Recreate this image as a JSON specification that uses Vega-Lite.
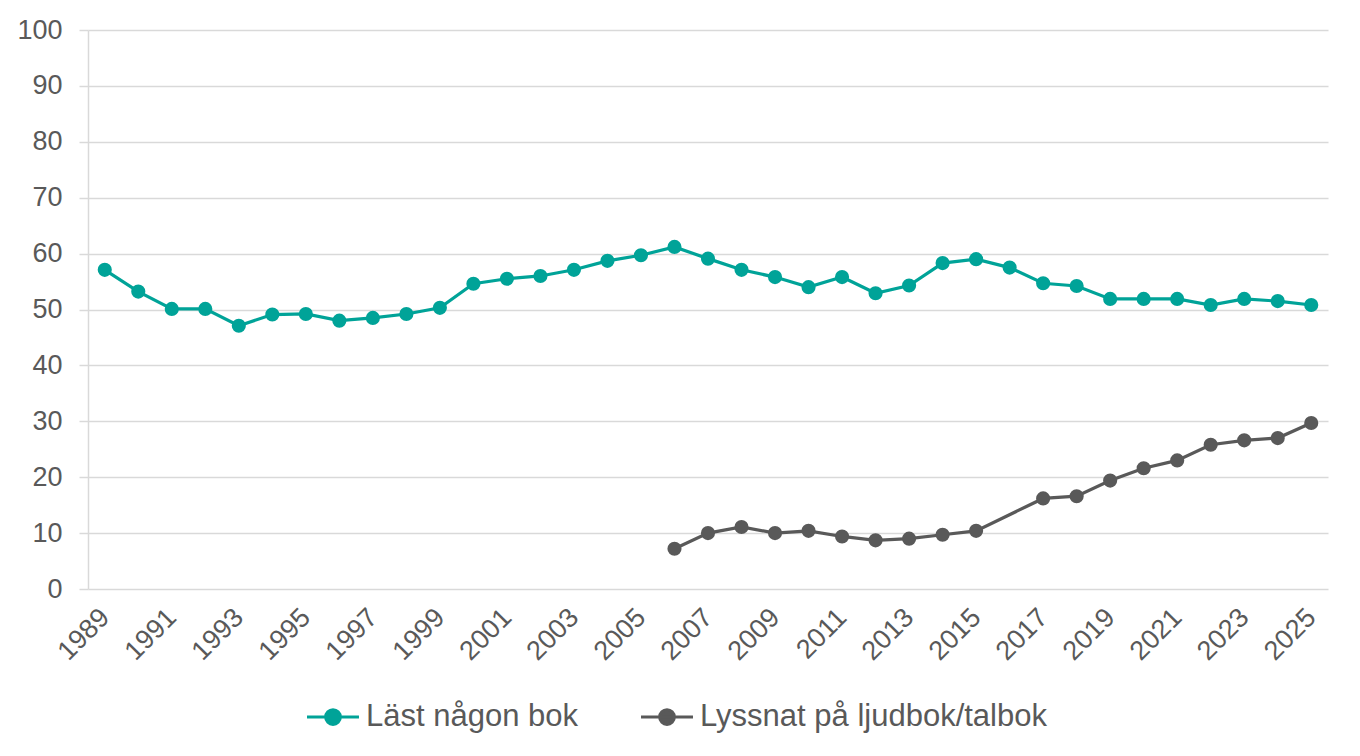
{
  "$schema": "https://vega.github.io/schema/vega-lite/v6.json",
  "autosize": "none",
  "width": 1240,
  "height": 559,
  "padding": {"left": 88, "top": 30, "right": 32, "bottom": 167},
  "background": "white",
  "config": {
    "view": {"stroke": null},
    "font": "Liberation Sans",
    "axis": {"labelFont": "Liberation Sans", "labelColor": "#595959", "labelFontSize": 27}
  },
  "data": {"values": [
    {"year": 1989, "series": "Läst någon bok", "value": 57.1},
    {"year": 1990, "series": "Läst någon bok", "value": 53.2},
    {"year": 1991, "series": "Läst någon bok", "value": 50.1},
    {"year": 1992, "series": "Läst någon bok", "value": 50.1},
    {"year": 1993, "series": "Läst någon bok", "value": 47.1},
    {"year": 1994, "series": "Läst någon bok", "value": 49.1},
    {"year": 1995, "series": "Läst någon bok", "value": 49.2},
    {"year": 1996, "series": "Läst någon bok", "value": 48.0},
    {"year": 1997, "series": "Läst någon bok", "value": 48.5},
    {"year": 1998, "series": "Läst någon bok", "value": 49.2},
    {"year": 1999, "series": "Läst någon bok", "value": 50.3},
    {"year": 2000, "series": "Läst någon bok", "value": 54.6},
    {"year": 2001, "series": "Läst någon bok", "value": 55.5},
    {"year": 2002, "series": "Läst någon bok", "value": 56.0},
    {"year": 2003, "series": "Läst någon bok", "value": 57.1},
    {"year": 2004, "series": "Läst någon bok", "value": 58.7},
    {"year": 2005, "series": "Läst någon bok", "value": 59.7},
    {"year": 2006, "series": "Läst någon bok", "value": 61.2},
    {"year": 2007, "series": "Läst någon bok", "value": 59.1},
    {"year": 2008, "series": "Läst någon bok", "value": 57.1},
    {"year": 2009, "series": "Läst någon bok", "value": 55.8},
    {"year": 2010, "series": "Läst någon bok", "value": 54.0},
    {"year": 2011, "series": "Läst någon bok", "value": 55.8},
    {"year": 2012, "series": "Läst någon bok", "value": 52.9},
    {"year": 2013, "series": "Läst någon bok", "value": 54.3},
    {"year": 2014, "series": "Läst någon bok", "value": 58.3},
    {"year": 2015, "series": "Läst någon bok", "value": 59.0},
    {"year": 2016, "series": "Läst någon bok", "value": 57.5},
    {"year": 2017, "series": "Läst någon bok", "value": 54.7},
    {"year": 2018, "series": "Läst någon bok", "value": 54.2},
    {"year": 2019, "series": "Läst någon bok", "value": 51.9},
    {"year": 2020, "series": "Läst någon bok", "value": 51.9},
    {"year": 2021, "series": "Läst någon bok", "value": 51.9},
    {"year": 2022, "series": "Läst någon bok", "value": 50.8},
    {"year": 2023, "series": "Läst någon bok", "value": 51.9},
    {"year": 2024, "series": "Läst någon bok", "value": 51.5},
    {"year": 2025, "series": "Läst någon bok", "value": 50.8},
    {"year": 2006, "series": "Lyssnat på ljudbok/talbok", "value": 7.2},
    {"year": 2007, "series": "Lyssnat på ljudbok/talbok", "value": 10.0},
    {"year": 2008, "series": "Lyssnat på ljudbok/talbok", "value": 11.1},
    {"year": 2009, "series": "Lyssnat på ljudbok/talbok", "value": 10.0},
    {"year": 2010, "series": "Lyssnat på ljudbok/talbok", "value": 10.4},
    {"year": 2011, "series": "Lyssnat på ljudbok/talbok", "value": 9.4},
    {"year": 2012, "series": "Lyssnat på ljudbok/talbok", "value": 8.7},
    {"year": 2013, "series": "Lyssnat på ljudbok/talbok", "value": 9.0},
    {"year": 2014, "series": "Lyssnat på ljudbok/talbok", "value": 9.7},
    {"year": 2015, "series": "Lyssnat på ljudbok/talbok", "value": 10.4},
    {"year": 2017, "series": "Lyssnat på ljudbok/talbok", "value": 16.2},
    {"year": 2018, "series": "Lyssnat på ljudbok/talbok", "value": 16.6},
    {"year": 2019, "series": "Lyssnat på ljudbok/talbok", "value": 19.4},
    {"year": 2020, "series": "Lyssnat på ljudbok/talbok", "value": 21.6},
    {"year": 2021, "series": "Lyssnat på ljudbok/talbok", "value": 23.0},
    {"year": 2022, "series": "Lyssnat på ljudbok/talbok", "value": 25.8},
    {"year": 2023, "series": "Lyssnat på ljudbok/talbok", "value": 26.6},
    {"year": 2024, "series": "Lyssnat på ljudbok/talbok", "value": 27.0},
    {"year": 2025, "series": "Lyssnat på ljudbok/talbok", "value": 29.7}
  ]},
  "mark": {"type": "line", "strokeWidth": 3.2, "point": {"filled": true, "size": 200, "opacity": 1}},
  "encoding": {
    "x": {
      "field": "year", "type": "quantitative",
      "scale": {"domain": [1988.5, 2025.5], "nice": false, "zero": false},
      "axis": {
        "title": null, "grid": false, "domain": false, "ticks": false,
        "values": [1989, 1991, 1993, 1995, 1997, 1999, 2001, 2003, 2005, 2007, 2009, 2011, 2013, 2015, 2017, 2019, 2021, 2023, 2025],
        "format": "d", "labelAngle": -45, "labelAlign": "right", "labelBaseline": "middle", "labelPadding": 24, "labelOverlap": false,
        "labelFontSize": 27
      }
    },
    "y": {
      "field": "value", "type": "quantitative",
      "scale": {"domain": [0, 100], "nice": false},
      "axis": {
        "title": null, "values": [0, 10, 20, 30, 40, 50, 60, 70, 80, 90, 100],
        "grid": true, "gridColor": "#d9d9d9", "gridWidth": 1.5,
        "domain": true, "domainColor": "#d9d9d9", "domainWidth": 1.5,
        "ticks": true, "tickSize": 9, "tickColor": "#d9d9d9", "tickWidth": 1.5,
        "labelPadding": 17, "labelFontSize": 27
      }
    },
    "color": {
      "field": "series", "type": "nominal",
      "scale": {"domain": ["Läst någon bok", "Lyssnat på ljudbok/talbok"], "range": ["#00A398", "#595959"]},
      "legend": {
        "title": null, "orient": "none", "direction": "horizontal",
        "legendX": 217, "legendY": 659,
        "symbolType": "M -1 0 H 1 M -0.28 0 A 0.28 0.28 0 1 1 0.28 0 A 0.28 0.28 0 1 1 -0.28 0",
        "symbolSize": 2700, "symbolStrokeWidth": 3.2,
        "labelFontSize": 31, "labelColor": "#595959", "labelFont": "Liberation Sans", "labelLimit": 0,
        "labelOffset": 5, "columnPadding": 55,
        "encode": {"symbols": {"update": {"fill": {"scale": "color", "field": "value"}, "opacity": {"value": 1}}}}
      }
    }
  }
}
